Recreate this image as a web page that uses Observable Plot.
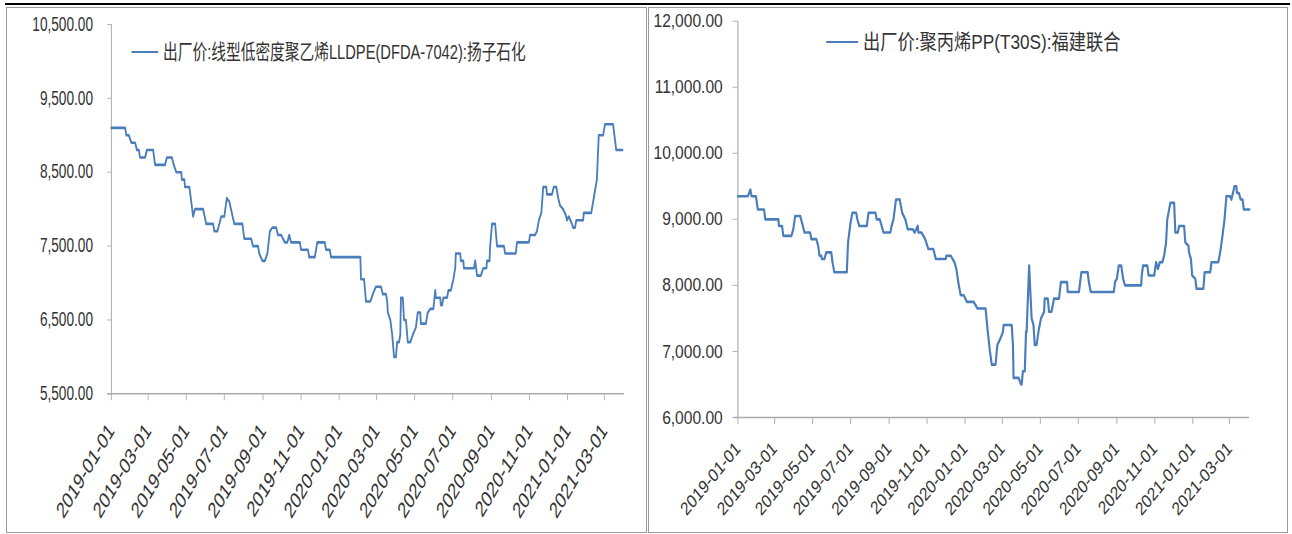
<!DOCTYPE html>
<html>
<head>
<meta charset="utf-8">
<script src="https://cdn.jsdelivr.net/npm/d3@7"></script>
<script src="https://cdn.jsdelivr.net/npm/@observablehq/plot@0.6"></script>
<style>
  body { margin: 0; background: #fff; width: 1292px; height: 534px; position: relative; overflow: hidden; font-family: "Liberation Sans", Arial, sans-serif; }
  .box { position: absolute; box-sizing: border-box; border: 1.5px solid #9a9a9a; }
  .panel { position: absolute; top: 0; height: 534px; transform-origin: 0 0; }
  .panel svg { max-width: none !important; }
  .sw { position: absolute; height: 2.5px; background: #4a7ebb; }
  .lg { position: absolute; white-space: nowrap; font-size: 21px; line-height: 21px; color: #333; font-family: "Liberation Sans", "Noto Sans CJK SC", sans-serif; }
</style>
</head>
<body>
<div style="position:absolute;left:5px;top:2.5px;width:1285px;height:2.5px;background:#000"></div>
<div class="box" style="left:6px;top:6.5px;width:641px;height:526px"></div>
<div class="box" style="left:648px;top:6.5px;width:640px;height:526px"></div>
<div id="left" class="panel" style="left:0px;width:929px;transform:scaleX(0.7)"></div>
<div id="right" class="panel" style="left:645px;width:787px;transform:scaleX(0.82)"></div>
<script>
const xTicks = ["2019-01-01","2019-03-01","2019-05-01","2019-07-01","2019-09-01","2019-11-01","2020-01-01","2020-03-01","2020-05-01","2020-07-01","2020-09-01","2020-11-01","2021-01-01","2021-03-01"];
const xDomain = ["2019-01-01","2021-04-02"];
const legendLabels = ["出厂价:线型低密度聚乙烯LLDPE(DFDA-7042):扬子石化", "出厂价:聚丙烯PP(T30S):福建联合"];

const lldpeYTicks = [5500, 6500, 7500, 8500, 9500, 10500];
const ppYTicks = [6000, 7000, 8000, 9000, 10000, 11000, 12000];

const lldpeDates = ["2019-01-01","2019-01-23","2019-01-25","2019-01-29","2019-02-02","2019-02-08","2019-02-11","2019-02-14","2019-02-16","2019-02-24","2019-02-27","2019-03-09","2019-03-12","2019-03-28","2019-03-31","2019-04-08","2019-04-11","2019-04-15","2019-04-23","2019-04-24","2019-04-28","2019-04-29","2019-05-06","2019-05-09","2019-05-12","2019-05-15","2019-05-28","2019-06-02","2019-06-13","2019-06-15","2019-06-20","2019-06-23","2019-06-26","2019-07-01","2019-07-05","2019-07-09","2019-07-13","2019-07-17","2019-07-30","2019-08-02","2019-08-13","2019-08-16","2019-08-24","2019-08-26","2019-08-31","2019-09-04","2019-09-08","2019-09-12","2019-09-16","2019-09-22","2019-09-25","2019-09-30","2019-10-06","2019-10-10","2019-10-13","2019-10-16","2019-10-30","2019-11-01","2019-11-12","2019-11-14","2019-11-23","2019-11-27","2019-12-09","2019-12-11","2019-12-17","2019-12-19","2020-02-04","2020-02-05","2020-02-10","2020-02-12","2020-02-13","2020-02-20","2020-02-24","2020-02-29","2020-03-08","2020-03-11","2020-03-16","2020-03-18","2020-03-19","2020-03-23","2020-03-26","2020-03-29","2020-04-01","2020-04-03","2020-04-06","2020-04-08","2020-04-09","2020-04-12","2020-04-14","2020-04-17","2020-04-20","2020-04-24","2020-04-28","2020-05-03","2020-05-06","2020-05-10","2020-05-11","2020-05-19","2020-05-22","2020-05-26","2020-05-31","2020-06-03","2020-06-04","2020-06-11","2020-06-12","2020-06-14","2020-06-16","2020-06-22","2020-06-24","2020-06-28","2020-07-02","2020-07-05","2020-07-06","2020-07-13","2020-07-14","2020-07-18","2020-07-19","2020-08-04","2020-08-06","2020-08-09","2020-08-15","2020-08-19","2020-08-24","2020-08-25","2020-08-29","2020-08-30","2020-09-02","2020-09-07","2020-09-10","2020-09-21","2020-09-23","2020-10-10","2020-10-12","2020-10-31","2020-11-02","2020-11-10","2020-11-13","2020-11-16","2020-11-20","2020-11-23","2020-11-28","2020-11-29","2020-12-07","2020-12-10","2020-12-14","2020-12-17","2020-12-20","2020-12-25","2020-12-30","2020-12-31","2021-01-03","2021-01-08","2021-01-10","2021-01-13","2021-01-15","2021-01-26","2021-01-27","2021-02-08","2021-02-12","2021-02-17","2021-02-20","2021-02-27","2021-03-02","2021-03-15","2021-03-20","2021-03-30"];
const lldpeValues = [9100,9100,9000,9000,8900,8900,8800,8800,8700,8700,8800,8800,8600,8600,8700,8700,8600,8500,8500,8400,8400,8300,8300,8100,7900,8000,8000,7800,7800,7700,7700,7800,7900,7900,8150,8100,7950,7800,7800,7600,7600,7500,7500,7400,7300,7300,7400,7700,7750,7750,7650,7650,7550,7550,7650,7550,7550,7450,7450,7350,7350,7550,7550,7450,7450,7350,7350,7050,7050,6850,6750,6750,6850,6950,6950,6850,6850,6750,6600,6500,6300,6000,6000,6200,6200,6300,6800,6800,6500,6500,6200,6200,6300,6400,6600,6600,6450,6450,6600,6650,6650,6900,6800,6800,6700,6700,6800,6800,6900,6900,7050,7200,7400,7400,7300,7300,7200,7200,7300,7100,7100,7200,7200,7300,7300,7500,7800,7800,7500,7500,7400,7400,7550,7550,7650,7650,7700,7850,7950,8300,8300,8200,8200,8300,8300,8150,8050,8000,7900,7850,7900,7800,7750,7750,7850,7850,7950,7950,8150,8400,9000,9000,9150,9150,8800,8800];

const ppDates = ["2019-01-01","2019-01-17","2019-01-21","2019-01-23","2019-01-30","2019-02-02","2019-02-12","2019-02-14","2019-03-07","2019-03-08","2019-03-13","2019-03-15","2019-03-28","2019-03-31","2019-04-03","2019-04-11","2019-04-14","2019-04-18","2019-04-27","2019-04-29","2019-05-07","2019-05-10","2019-05-12","2019-05-15","2019-05-16","2019-05-20","2019-05-23","2019-05-31","2019-06-02","2019-06-05","2019-06-25","2019-06-27","2019-07-01","2019-07-04","2019-07-10","2019-07-12","2019-07-15","2019-07-27","2019-07-30","2019-08-10","2019-08-12","2019-08-17","2019-08-20","2019-08-23","2019-09-03","2019-09-05","2019-09-08","2019-09-12","2019-09-18","2019-09-22","2019-09-27","2019-10-01","2019-10-09","2019-10-12","2019-10-17","2019-10-18","2019-10-23","2019-10-29","2019-11-03","2019-11-11","2019-11-15","2019-12-01","2019-12-02","2019-12-09","2019-12-15","2019-12-18","2019-12-22","2019-12-25","2019-12-30","2020-01-04","2020-01-15","2020-01-18","2020-01-21","2020-02-03","2020-02-06","2020-02-10","2020-02-13","2020-02-19","2020-02-22","2020-02-27","2020-03-02","2020-03-03","2020-03-16","2020-03-18","2020-03-19","2020-03-27","2020-03-31","2020-04-01","2020-04-03","2020-04-06","2020-04-08","2020-04-09","2020-04-13","2020-04-17","2020-04-20","2020-04-22","2020-04-25","2020-04-28","2020-05-02","2020-05-07","2020-05-08","2020-05-13","2020-05-15","2020-05-19","2020-05-23","2020-05-31","2020-06-03","2020-06-13","2020-06-14","2020-07-02","2020-07-06","2020-07-16","2020-07-18","2020-07-21","2020-08-27","2020-08-29","2020-09-01","2020-09-04","2020-09-08","2020-09-11","2020-09-14","2020-10-10","2020-10-11","2020-10-13","2020-10-20","2020-10-22","2020-10-31","2020-11-03","2020-11-06","2020-11-09","2020-11-13","2020-11-16","2020-11-19","2020-11-21","2020-11-23","2020-11-26","2020-12-02","2020-12-04","2020-12-08","2020-12-10","2020-12-18","2020-12-20","2020-12-25","2020-12-26","2020-12-29","2020-12-31","2021-01-05","2021-01-07","2021-01-18","2021-01-20","2021-01-29","2021-01-31","2021-02-11","2021-02-14","2021-02-17","2021-02-21","2021-02-24","2021-03-02","2021-03-04","2021-03-09","2021-03-12","2021-03-13","2021-03-16","2021-03-19","2021-03-22","2021-03-24","2021-04-02"];
const ppValues = [9350,9350,9450,9350,9350,9150,9150,9000,9000,8900,8900,8750,8750,8850,9050,9050,8950,8800,8800,8700,8700,8600,8450,8450,8400,8400,8500,8500,8350,8200,8200,8650,8950,9100,9100,9000,8900,8900,9100,9100,9000,9000,8900,8800,8800,8900,9000,9300,9300,9100,9000,8850,8850,8800,8900,8800,8800,8700,8550,8550,8400,8400,8450,8450,8350,8250,8000,7850,7850,7750,7750,7700,7650,7650,7350,7000,6800,6800,7100,7200,7300,7400,7400,7100,6600,6600,6500,6500,6700,6700,7300,7300,8300,7500,7400,7100,7100,7300,7500,7600,7800,7800,7600,7600,7800,7800,8050,8050,7900,7900,8200,8200,8050,7900,7900,8050,8100,8300,8300,8100,8000,8000,8150,8300,8300,8150,8150,8350,8250,8350,8350,8450,8650,9000,9100,9250,9250,8800,8800,8900,8900,8650,8600,8500,8400,8150,8100,7950,7950,8200,8200,8350,8350,8500,8700,9000,9350,9350,9300,9500,9500,9400,9400,9300,9300,9150,9150];

const LINE = "#4a7ebb", AXIS = "#aaaaaa", TEXT = "#333333";

function makePanel(o) {
  const data = o.dates.map((d, i) => ({date: new Date(d), value: o.values[i]}));
  const d0 = new Date(xDomain[0]);
  return Plot.plot({
    width: o.width, height: 534,
    marginLeft: o.ml, marginRight: o.mr, marginTop: o.mt, marginBottom: o.mb,
    style: {fontFamily: '"Liberation Sans", Arial, sans-serif', background: "transparent", color: TEXT, overflow: "visible", maxWidth: "none"},
    x: {type: "utc", domain: xDomain.map(d => new Date(d))},
    y: {domain: [o.yTicks[0], o.yTicks[o.yTicks.length - 1]]},
    marks: [
      Plot.ruleY([o.yTicks[0]], {stroke: AXIS, strokeWidth: 1.4, insetLeft: -o.ext}),
      Plot.ruleX([d0], {stroke: AXIS, strokeWidth: 1.4}),
      Plot.axisY({ticks: o.yTicks, tickFormat: d3.format(",.2f"), tickSize: o.yTick, tickPadding: o.yPad, stroke: AXIS, color: TEXT, fontSize: o.yFont, label: null}),
      Plot.axisX({ticks: xTicks.map(d => new Date(d)), tickFormat: d3.utcFormat("%Y-%m-%d"), tickRotate: o.xRot, tickSize: 7, tickPadding: o.xPad, stroke: AXIS, color: TEXT, fontSize: o.xFont, label: null}),
      Plot.line(data, {x: "date", y: "value", stroke: LINE, strokeWidth: 2.6})
    ]
  });
}

function addLegend(el, text, sx, sw, sy, tx) {
  const s = document.createElement("div");
  s.className = "sw";
  s.style.left = sx + "px"; s.style.width = sw + "px"; s.style.top = (sy - 1.25) + "px";
  el.appendChild(s);
  const t = document.createElement("div");
  t.className = "lg";
  t.textContent = text;
  t.style.left = tx + "px"; t.style.top = (sy - 11) + "px";
  el.appendChild(t);
}

const left = document.getElementById("left");
left.appendChild(makePanel({dates: lldpeDates, values: lldpeValues, yTicks: lldpeYTicks, width: 929, ml: 158.6, mr: 37.6, mt: 24, mb: 140.7, yTick: 5.7, yPad: 20.5, yFont: 19.5, xPad: 26, xRot: -50, xFont: 22.5, ext: 5.7}));
addLegend(left, legendLabels[0], 188, 38, 52, 233);

const right = document.getElementById("right");
right.appendChild(makePanel({dates: ppDates, values: ppValues, yTicks: ppYTicks, width: 787, ml: 112.8, mr: 50.4, mt: 20.7, mb: 117, yTick: 6.1, yPad: 12.4, yFont: 19, xPad: 21, xRot: -45, xFont: 18.5, ext: 4.9}));
addLegend(right, legendLabels[1], 221, 39, 42, 266);
</script>
</body>
</html>
